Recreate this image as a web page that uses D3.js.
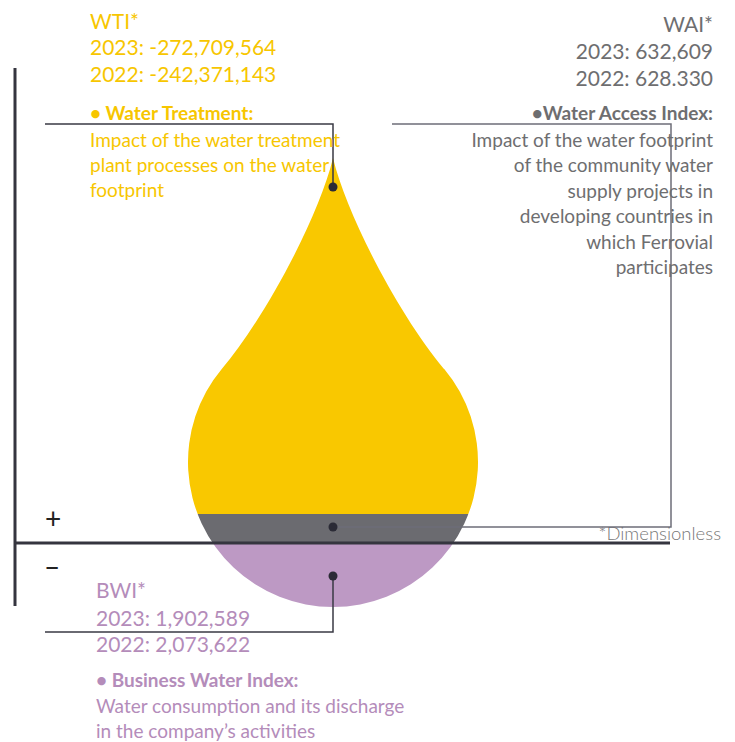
<!DOCTYPE html>
<html>
<head>
<meta charset="utf-8">
<script src="https://cdn.jsdelivr.net/npm/d3@7"></script>
<style>
  body { margin: 0; background: #fff; }
  text { font-family: Lato, "Open Sans", sans-serif; }
</style>
</head>
<body>
<div id="chart"></div>
<script>
var width = 735, height = 742

// index data
var indexNames = ["WTI*", "WAI*", "BWI*"]
var values2023 = ["-272,709,564", "632,609", "1,902,589"]
var values2022 = ["-242,371,143", "628.330", "2,073,622"]
var titles = ["• Water Treatment:", "•Water Access Index:", "• Business Water Index:"]
var descriptions = [
  ["Impact of the water treatment", "plant processes on the water", "footprint"],
  ["Impact of the water footprint", "of the community water", "supply projects in", "developing countries in", "which Ferrovial", "participates"],
  ["Water consumption and its discharge", "in the company\u2019s activities"]
]
var colors = ["#f7c600", "#6e6e70", "#b48cba"]
var bandColors = ["#f9c800", "#6b6b70", "#bd99c4"]

var svg = d3.select("#chart").append("svg")
    .attr("width", width)
    .attr("height", height)

// drop geometry
var cx = 333, cy = 462, r = 145, tipY = 158
var bandTop = 514, axisY = 543

var drop = d3.path()
drop.moveTo(cx, tipY)
drop.bezierCurveTo(cx + 14, tipY + 58, cx + 66, tipY + 157, cx + 111, cy - 93)
drop.arc(cx, cy, r, -Math.asin(93 / r), Math.PI + Math.asin(93 / r))
drop.bezierCurveTo(cx - 66, tipY + 157, cx - 14, tipY + 58, cx, tipY)
drop.closePath()

var defs = svg.append("defs")
defs.append("clipPath").attr("id", "dropClip")
    .append("path").attr("d", drop.toString())

var g = svg.append("g").attr("clip-path", "url(#dropClip)")
var bands = [[0, bandTop], [bandTop, axisY], [axisY, height]]
g.selectAll("rect")
    .data(bands)
    .enter()
    .append("rect")
    .attr("x", 0)
    .attr("y", function(d){ return d[0] })
    .attr("width", width)
    .attr("height", function(d){ return d[1] - d[0] })
    .attr("fill", function(d, i){ return bandColors[i] })

// axes
var lineColor = "#35353f"
svg.append("line").attr("x1", 15).attr("x2", 15).attr("y1", 68).attr("y2", 606)
    .attr("stroke", lineColor).attr("stroke-width", 3)
svg.append("line").attr("x1", 14).attr("x2", 670).attr("y1", axisY).attr("y2", axisY)
    .attr("stroke", lineColor).attr("stroke-width", 3)
svg.append("text").attr("x", 53).attr("y", 529).attr("text-anchor", "middle")
    .attr("font-size", "28px").attr("fill", "#222").text("+")
svg.append("text").attr("x", 52).attr("y", 577).attr("text-anchor", "middle")
    .attr("font-size", "28px").attr("fill", "#222").text("\u2013")
svg.append("text").attr("x", 721).attr("y", 540).attr("text-anchor", "end")
    .attr("font-size", "18.5px").attr("fill", "#777").style("font-weight", 300).text("*Dimensionless")

// leader lines
var leaders = [
  [[45, 124], [333, 124], [333, 187]],
  [[392, 124], [671, 124], [671, 527], [333, 527]],
  [[45, 632], [333, 632], [333, 576]]
]
var dots = [[333, 187], [333, 527], [333, 576]]
var lineGen = d3.line()
svg.selectAll(".leader")
    .data(leaders)
    .enter()
    .append("path")
    .attr("class", "leader")
    .attr("d", lineGen)
    .attr("fill", "none")
    .attr("stroke", function(d, i){ return i == 1 ? "#6e6e78" : "#3a3a44" })
    .attr("stroke-width", 1.5)
svg.selectAll(".dot")
    .data(dots)
    .enter()
    .append("circle")
    .attr("class", "dot")
    .attr("cx", function(d){ return d[0] })
    .attr("cy", function(d){ return d[1] })
    .attr("r", 4.5)
    .attr("fill", "#2b2b36")

// text blocks
var blocks = [
  {x: 90, anchor: "start", head: [29, 55, 82], title: 120, desc: 147, step: 25},
  {x: 713, anchor: "end", head: [32, 59, 86], title: 120, desc: 147, step: 25.4},
  {x: 96, anchor: "start", head: [598, 626, 652], title: 687, desc: 713, step: 24.5}
]
blocks.forEach(function(b, i){
  var t = svg.append("g").attr("fill", colors[i]).attr("text-anchor", b.anchor)
  var head = [indexNames[i], "2023: " + values2023[i], "2022: " + values2022[i]]
  head.forEach(function(s, j){
    t.append("text").attr("x", b.x).attr("y", b.head[j])
        .attr("font-size", "21px").style("font-weight", 400).text(s)
  })
  t.append("text").attr("x", b.x).attr("y", b.title)
      .attr("font-size", "19px").style("font-weight", "bold").text(titles[i])
  descriptions[i].forEach(function(s, j){
    t.append("text").attr("x", b.x).attr("y", b.desc + j * b.step)
        .attr("font-size", "19px").style("font-weight", 400).text(s)
  })
})
</script>
</body>
</html>
